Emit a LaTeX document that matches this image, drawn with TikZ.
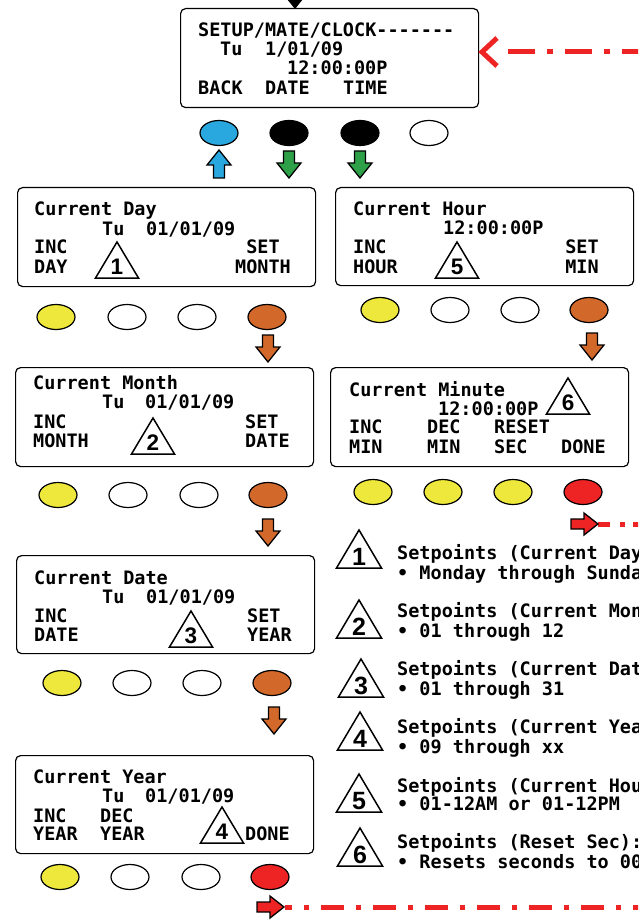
\documentclass[tikz,border=0pt]{standalone}
\usepackage{fontspec}
\newfontfamily\lcdfont{DejaVu Sans Mono}
\newfontfamily\numfont{Liberation Sans}
\usetikzlibrary{shapes.geometric}
\definecolor{cblue}{RGB}{41,168,224}
\definecolor{cyel}{RGB}{238,232,60}
\definecolor{corg}{RGB}{210,104,42}
\definecolor{cred}{RGB}{237,35,36}
\definecolor{cgrn}{RGB}{46,160,72}
\tikzset{
 screen/.style={draw, line width=1.2pt, rounded corners=5pt, anchor=north west, minimum width=298pt, inner sep=0pt},
 lcdtxt/.style={inner sep=0pt, anchor=base west, font=\lcdfont\bfseries\fontsize{18.5}{20}\selectfont},
 lcdc/.style={lcdtxt, anchor=base},
 btn/.style={ellipse, draw, line width=1.2pt, minimum width=38pt, minimum height=25pt, inner sep=0pt},
 blk/.style={draw, line width=1.3pt, line join=miter},
 tri/.style={draw, line width=1.5pt, line join=miter, fill=white},
 num/.style={inner sep=0pt, anchor=base, font=\numfont\bfseries\fontsize{22.5}{22}\selectfont},
 numb/.style={inner sep=0pt, anchor=base, font=\numfont\bfseries\fontsize{25}{25}\selectfont},
 reddash/.style={draw=cred, line width=5pt},
}
\newcommand\lcdat[4]{\node[lcdtxt] (#1) at (#2,#3) {#4};}
\newcommand\lcdcen[4]{\node[lcdc] (#1) at (#2,#3) {#4};}
\newcommand\settri[4]{%
 \draw[tri] (#2,#3) -- (#2+21.5,#3+36) -- (#2-21.5,#3+36) -- cycle;
 \node[num] (#1) at (#2,#3+32.5) {#4};}
\newcommand\settrib[4]{%
 \draw[tri] (#2,#3) -- (#2+22.5,#3+38) -- (#2-22.5,#3+38) -- cycle;
 \node[numb] (#1) at (#2,#3+35) {#4};}
\newcommand\arrdown[3]{%
 \draw[blk, fill=#1] (#2-5.5,#3) -- (#2+5.5,#3) -- (#2+5.5,#3+12) -- (#2+12,#3+12)
  -- (#2,#3+27) -- (#2-12,#3+12) -- (#2-5.5,#3+12) -- cycle;}
\newcommand\arrup[3]{%
 \draw[blk, fill=#1] (#2-5.5,#3+28) -- (#2+5.5,#3+28) -- (#2+5.5,#3+15) -- (#2+12,#3+15)
  -- (#2,#3) -- (#2-12,#3+15) -- (#2-5.5,#3+15) -- cycle;}
\newcommand\arrright[3]{%
 \draw[blk, fill=#1] (#2,#3-5) -- (#2+13,#3-5) -- (#2+13,#3-11) -- (#2+27,#3)
  -- (#2+13,#3+11) -- (#2+13,#3+5) -- (#2,#3+5) -- cycle;}
\begin{document}
\begin{tikzpicture}[x=1pt,y=-1pt]
\useasboundingbox (0,0) rectangle (638,920);
\clip (0,0) rectangle (638,920);
\fill[white] (0,0) rectangle (638,920);

% ---------- top screen ----------
\arrdown{black}{295}{-19}
\node[screen, minimum height=99pt] (bsetup) at (180,8) {};
\lcdat{s1}{198}{37}{SETUP/MATE/CLOCK-{}-{}-{}-{}-{}-{}-}
\lcdat{s2}{220}{56}{Tu}
\lcdat{s3}{265}{56}{1/01/09}
\lcdat{s4}{287}{75}{12:00:00P}
\lcdat{s5}{198}{95}{BACK}
\lcdat{s6}{265}{95}{DATE}
\lcdat{s7}{343}{95}{TIME}
\node[btn, fill=cblue] (e01) at (219,133) {};
\node[btn, fill=black] (e02) at (289,133) {};
\node[btn, fill=black] (e03) at (360,133) {};
\node[btn, fill=white] (e04) at (429,133) {};
\arrup{cblue}{219}{150}
\arrdown{cgrn}{289}{151}
\arrdown{cgrn}{360}{151}
% return arrow (top)
\coordinate (topend) at (650,52);
\coordinate (toptip) at (500,52);
\draw[reddash, dash pattern=on 27pt off 12pt on 6pt off 12pt, dash phase=49pt] (toptip) -- (topend);
\draw[draw=cred, line width=5pt, line join=miter] (497,38) -- (482,52) -- (497,66);

% ---------- Current Day ----------
\node[screen, minimum height=99pt] (bday) at (17,187) {};
\lcdat{d1}{34}{215}{Current Day}
\lcdat{d2}{102}{235}{Tu}
\lcdat{d3}{146}{235}{01/01/09}
\lcdat{d4}{34}{253}{INC}
\lcdat{d5}{34}{273}{DAY}
\lcdcen{d6}{263}{253}{SET}
\lcdcen{d7}{263}{273}{MONTH}
\settri{n1}{117}{242}{1}
\node[btn, fill=cyel] (e11) at (56,317) {};
\node[btn, fill=white] (e12) at (127,317) {};
\node[btn, fill=white] (e13) at (197,317) {};
\node[btn, fill=corg] (e14) at (267,317) {};
\arrdown{corg}{268}{335}

% ---------- Current Month ----------
\node[screen, minimum height=99pt] (bmonth) at (15,367) {};
\lcdat{m1}{33}{389}{Current Month}
\lcdat{m2}{102}{408}{Tu}
\lcdat{m3}{145}{408}{01/01/09}
\lcdat{m4}{33}{428}{INC}
\lcdat{m5}{33}{447}{MONTH}
\lcdat{m6}{245}{428}{SET}
\lcdat{m7}{245}{447}{DATE}
\settri{n2}{153}{418}{2}
\node[btn, fill=cyel] (e21) at (58,495) {};
\node[btn, fill=white] (e22) at (128,495) {};
\node[btn, fill=white] (e23) at (199,495) {};
\node[btn, fill=corg] (e24) at (268,495) {};
\arrdown{corg}{268}{519}

% ---------- Current Date ----------
\node[screen, minimum height=98pt] (bdate) at (16,555) {};
\lcdat{t1}{34}{584}{Current Date}
\lcdat{t2}{102}{603}{Tu}
\lcdat{t3}{146}{603}{01/01/09}
\lcdat{t4}{34}{622}{INC}
\lcdat{t5}{34}{641}{DATE}
\lcdat{t6}{247}{622}{SET}
\lcdat{t7}{247}{641}{YEAR}
\settri{n3}{191}{611}{3}
\node[btn, fill=cyel] (e31) at (62,683) {};
\node[btn, fill=white] (e32) at (132,683) {};
\node[btn, fill=white] (e33) at (202,683) {};
\node[btn, fill=corg] (e34) at (272,683) {};
\arrdown{corg}{274}{707}

% ---------- Current Year ----------
\node[screen, minimum height=98pt] (byear) at (15,755) {};
\lcdat{y1}{33}{783}{Current Year}
\lcdat{y2}{102}{802}{Tu}
\lcdat{y3}{145}{802}{01/01/09}
\lcdat{y4}{33}{822}{INC}
\lcdat{y5}{33}{840}{YEAR}
\lcdat{y6}{100}{822}{DEC}
\lcdat{y7}{100}{840}{YEAR}
\lcdat{y8}{245}{840}{DONE}
\settri{n4}{222}{807}{4}
\node[btn, fill=cyel] (e41) at (60,877) {};
\node[btn, fill=white] (e42) at (130,877) {};
\node[btn, fill=white] (e43) at (201,877) {};
\node[btn, fill=cred] (e44) at (270,877) {};
\coordinate (botstart) at (285,907);
\coordinate (botend) at (650,907);
\draw[reddash, dash pattern=on 23pt off 12pt on 5pt off 12pt, dash phase=16pt] (botstart) -- (botend);
\arrright{cred}{257}{907}

% ---------- Current Hour ----------
\node[screen, minimum height=98pt] (bhour) at (335,187) {};
\lcdat{h1}{353}{215}{Current Hour}
\lcdat{h2}{443}{234}{12:00:00P}
\lcdat{h3}{353}{253}{INC}
\lcdat{h4}{353}{273}{HOUR}
\lcdcen{h5}{582}{253}{SET}
\lcdcen{h6}{582}{273}{MIN}
\settri{n5}{457}{242}{5}
\node[btn, fill=cyel] (e51) at (380,310) {};
\node[btn, fill=white] (e52) at (450,310) {};
\node[btn, fill=white] (e53) at (520,310) {};
\node[btn, fill=corg] (e54) at (589,310) {};
\arrdown{corg}{592}{333}

% ---------- Current Minute ----------
\node[screen, minimum height=99pt] (bmin) at (330,367) {};
\lcdat{u1}{349}{396}{Current Minute}
\lcdat{u2}{438}{415}{12:00:00P}
\settri{n6}{568}{378}{6}
\lcdat{u3}{349}{433}{INC}
\lcdat{u4}{349}{453}{MIN}
\lcdat{u5}{427}{433}{DEC}
\lcdat{u6}{427}{453}{MIN}
\lcdat{u7}{494}{433}{RESET}
\lcdat{u8}{494}{453}{SEC}
\lcdat{u9}{561}{453}{DONE}
\node[btn, fill=cyel] (e61) at (373,492) {};
\node[btn, fill=cyel] (e62) at (443,492) {};
\node[btn, fill=cyel] (e63) at (513,492) {};
\node[btn, fill=cred] (e64) at (583,492) {};
\coordinate (midstart) at (598,524);
\coordinate (midend) at (650,524);
\draw[reddash, dash pattern=on 12pt off 10pt on 5pt off 8pt on 20pt off 10pt] (midstart) -- (midend);
\arrright{cred}{571}{524}

% ---------- legend ----------
\settrib{k1}{359}{530}{1}
\lcdat{l1a}{397}{559}{Setpoints (Current Day):}
\lcdat{l1b}{397}{579}{• Monday through Sunday}
\settrib{k2}{359}{600}{2}
\lcdat{l2a}{397}{617}{Setpoints (Current Month):}
\lcdat{l2b}{397}{637}{• 01 through 12}
\settrib{k3}{361}{659}{3}
\lcdat{l3a}{397}{675}{Setpoints (Current Date):}
\lcdat{l3b}{397}{695}{• 01 through 31}
\settrib{k4}{360}{712}{4}
\lcdat{l4a}{397}{733}{Setpoints (Current Year):}
\lcdat{l4b}{397}{753}{• 09 through xx}
\settrib{k5}{359}{774}{5}
\lcdat{l5a}{397}{792}{Setpoints (Current Hour):}
\lcdat{l5b}{397}{810}{• 01-12AM or 01-12PM}
\settrib{k6}{360}{828}{6}
\lcdat{l6a}{397}{848}{Setpoints (Reset Sec):}
\lcdat{l6b}{397}{868}{• Resets seconds to 00}
\end{tikzpicture}
\end{document}
